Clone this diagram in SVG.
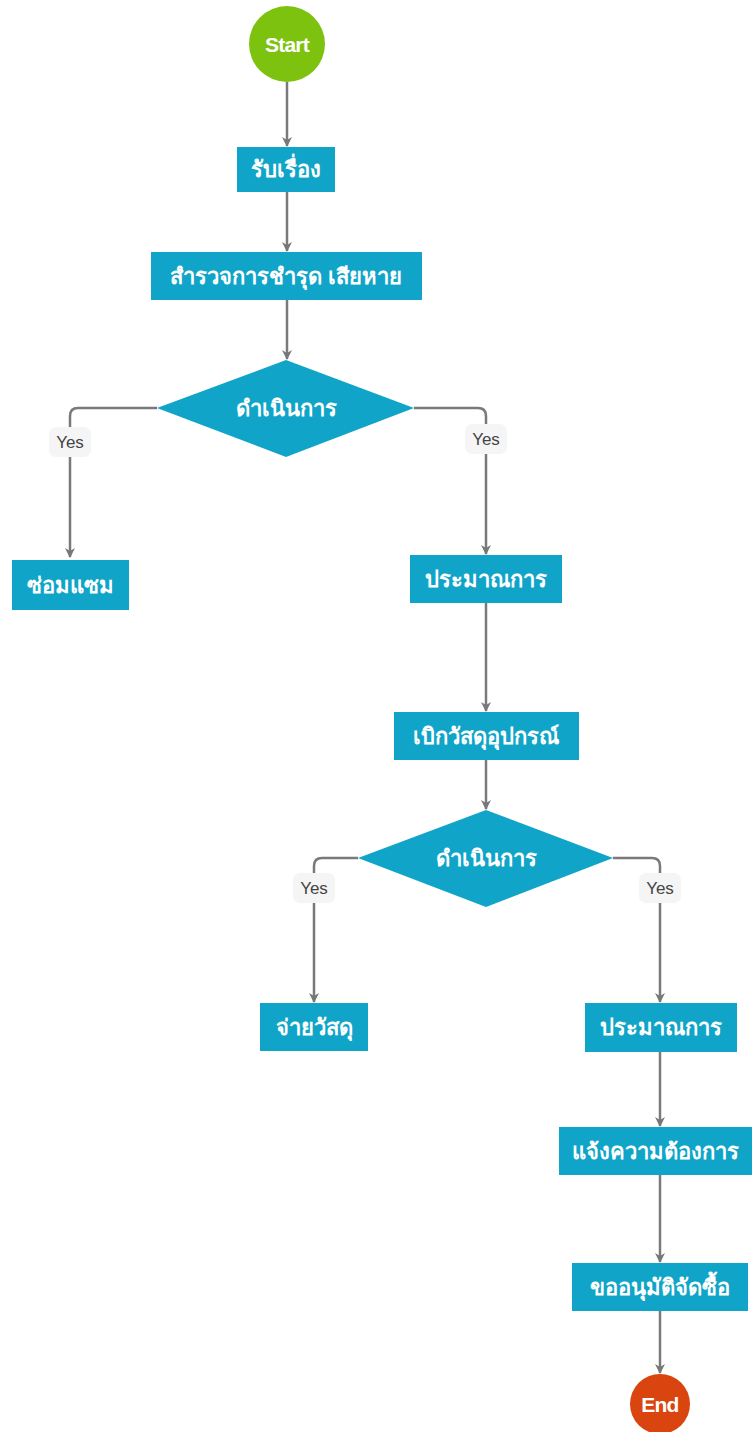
<svg xmlns="http://www.w3.org/2000/svg" width="755" height="1432" viewBox="0 0 755 1432">
<defs>
<marker id="arr" markerWidth="10" markerHeight="10" refX="9" refY="5" orient="auto" markerUnits="userSpaceOnUse">
<path d="M0,0 L10,5 L0,10 L3,5 z" fill="#777"/>
</marker>
<style>
.box{fill:#10a5c8}
.lbl{fill:#fff;font-family:"Liberation Sans","DejaVu Sans",sans-serif;font-weight:bold;font-size:22px;text-anchor:middle;dominant-baseline:central}
.se{fill:#fff;font-family:"Liberation Sans",sans-serif;font-weight:bold;font-size:21px;text-anchor:middle;dominant-baseline:central;letter-spacing:-0.8px}
.edge{fill:none;stroke:#7a7a7a;stroke-width:2.5}
.yesbg{fill:#f5f5f5}
.yes{fill:#444;font-family:"Liberation Sans","DejaVu Sans",sans-serif;font-size:17px;text-anchor:middle;dominant-baseline:central}
</style>
</defs>
<rect width="755" height="1432" fill="#fff"/>
<g id="connectors">
<path class="edge" d="M287,82 V146" marker-end="url(#arr)"/>
<path class="edge" d="M287,192 V251" marker-end="url(#arr)"/>
<path class="edge" d="M287,300 V359" marker-end="url(#arr)"/>
<path class="edge" d="M157,408 H78 Q70,408 70,416 V557" marker-end="url(#arr)"/>
<path class="edge" d="M414,408 H478 Q486,408 486,416 V554" marker-end="url(#arr)"/>
<path class="edge" d="M486,603 V711" marker-end="url(#arr)"/>
<path class="edge" d="M486,760 V809" marker-end="url(#arr)"/>
<path class="edge" d="M358,858 H322 Q314,858 314,866 V1002" marker-end="url(#arr)"/>
<path class="edge" d="M613,858 H652 Q660,858 660,866 V1002" marker-end="url(#arr)"/>
<path class="edge" d="M660,1052 V1126" marker-end="url(#arr)"/>
<path class="edge" d="M660,1175 V1262" marker-end="url(#arr)"/>
<path class="edge" d="M660,1311 V1373" marker-end="url(#arr)"/>
<rect class="yesbg" x="49" y="427" width="42" height="30" rx="7"/>
<text class="yes" x="70" y="442">Yes</text>
<rect class="yesbg" x="465" y="424" width="42" height="30" rx="7"/>
<text class="yes" x="486" y="439">Yes</text>
<rect class="yesbg" x="293" y="873" width="42" height="30" rx="7"/>
<text class="yes" x="314" y="888">Yes</text>
<rect class="yesbg" x="639" y="873" width="42" height="30" rx="7"/>
<text class="yes" x="660" y="888">Yes</text>
</g>
<g id="start">
<circle cx="287" cy="44" r="38" fill="#7cc20e"/>
<text class="se" x="287" y="44">Start</text>
</g>
<g id="n1">
<rect class="box" x="237" y="147" width="98" height="45"/>
<text class="lbl" x="286" y="169">รับเรื่อง</text>
</g>
<g id="n2">
<rect class="box" x="151" y="252" width="271" height="48"/>
<text class="lbl" x="286" y="276">สำรวจการชำรุด เสียหาย</text>
</g>
<g id="d1">
<polygon points="286,360 414,408 286,457 157,408" fill="#10a5c8"/>
<text class="lbl" x="286" y="408">ดำเนินการ</text>
</g>
<g id="n3">
<rect class="box" x="12" y="560" width="117" height="50"/>
<text class="lbl" x="70" y="585">ซ่อมแซม</text>
</g>
<g id="n4">
<rect class="box" x="410" y="555" width="152" height="48"/>
<text class="lbl" x="486" y="579">ประมาณการ</text>
</g>
<g id="n5">
<rect class="box" x="394" y="712" width="185" height="48"/>
<text class="lbl" x="486" y="736">เบิกวัสดุอุปกรณ์</text>
</g>
<g id="d2">
<polygon points="486,810 613,858 486,907 358,858" fill="#10a5c8"/>
<text class="lbl" x="486" y="858">ดำเนินการ</text>
</g>
<g id="n6">
<rect class="box" x="260" y="1003" width="108" height="48"/>
<text class="lbl" x="314" y="1027">จ่ายวัสดุ</text>
</g>
<g id="n7">
<rect class="box" x="585" y="1003" width="152" height="49"/>
<text class="lbl" x="661" y="1027">ประมาณการ</text>
</g>
<g id="n8">
<rect class="box" x="559" y="1127" width="193" height="48"/>
<text class="lbl" x="655" y="1151">แจ้งความต้องการ</text>
</g>
<g id="n9">
<rect class="box" x="572" y="1263" width="176" height="48"/>
<text class="lbl" x="660" y="1287">ขออนุมัติจัดซื้อ</text>
</g>
<g id="end">
<circle cx="660" cy="1404" r="30" fill="#d9440f"/>
<text class="se" x="660" y="1404">End</text>
</g>
</svg>
